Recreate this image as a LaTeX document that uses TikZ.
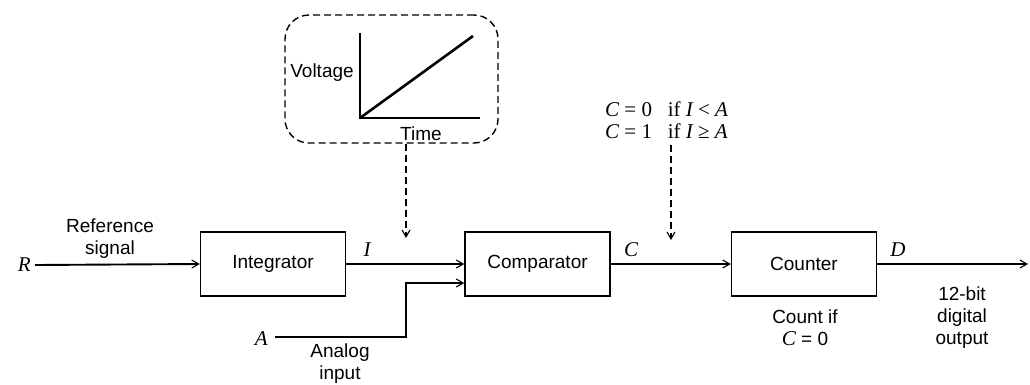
\documentclass[tikz,border=0pt]{standalone}
\usepackage{fontspec}
\setmainfont{Liberation Sans}
\newfontfamily\srf{Liberation Serif}
\newcommand{\vmi}[1]{{\srf\itshape #1}}
\newcommand{\bigv}[1]{{\fontsize{21}{24}\selectfont\srf\itshape #1}}
\usetikzlibrary{arrows.meta}
\begin{document}
\begin{tikzpicture}[x=1pt,y=-1pt,
  font=\fontsize{19}{22}\selectfont,
  blk/.style={draw, line width=1.4pt, minimum width=145pt, minimum height=64pt, inner sep=0pt},
  tip/.style={-{Straight Barb[length=7pt,width=8pt,line width=1.1pt]}},
  sig/.style={line width=1.9pt, tip},
  dsh/.style={line width=1.4pt, dash pattern=on 7pt off 4pt, tip},
  lbl/.style={inner sep=0pt, align=center}]
\useasboundingbox (0,0) rectangle (1030,384);

% blocks
\node[blk] (int) at (273,264) {Integrator};
\node[blk] (cmp) at (537.5,264) {Comparator};
\node[blk] (cnt) at (804,264) {Counter};

% inputs
\node[lbl, anchor=east] (R) at (31,265) {\bigv{R}};
\node[lbl] (refsig) at (110,239) {Reference\\signal};
\draw[sig] ([xshift=4pt]R.east) -- (int.west);

\node[lbl] (Ilab) at (367,250) {\bigv{I}};
\draw[sig] (int.east) -- (cmp.west);

\node[lbl, anchor=east] (A) at (268,339) {\bigv{A}};
\node[lbl] (analog) at (340,364) {Analog\\input};
\coordinate (ab) at (406,337);
\coordinate (at) at (406,283);
\draw[sig] ([xshift=7pt]A.east |- ab) -- (ab) -- (at) -- ([yshift=-19pt]cmp.west);

% graph box
\node[draw, line width=1.4pt, dash pattern=on 7pt off 4pt, rounded corners=24pt,
      minimum width=213pt, minimum height=128pt] (graph) at (391.5,79) {};
\coordinate (o) at (360,118);
\draw[line width=1.6pt] (360,33) -- (o) -- (480,118);
\draw[line width=2.6pt] (o) -- (473,36);
\node[lbl] (volt) at (322,73) {Voltage};
\node[lbl] (time) at (421,134) {Time};
\coordinate (itip) at (406,238);
\draw[dsh] (graph.south -| itip) -- (itip);

% comparator output
\node[lbl] (Clab) at (631,250) {\bigv{C}};
\draw[sig] (cmp.east) -- (cnt.west);
\node[lbl, anchor=north west, align=left, font=\fontsize{21}{22}\srf] (cond) at (605,102)
  {\vmi{C} = 0\ \ \ if \vmi{I} < \vmi{A}\\\vmi{C} = 1\ \ \ if \vmi{I} ≥ \vmi{A}};
\coordinate (ctip) at (671,240);
\draw[dsh] ([yshift=-6pt]cond.south -| ctip) -- (ctip);

% counter
\node[lbl] (cnote) at (805,328) {Count if\\\bigv{C} = 0};
\node[lbl] (Dlab) at (898,250) {\bigv{D}};
\coordinate (out) at (1028,264);
\draw[sig] (cnt.east) -- (out);
\node[lbl] (outlab) at (962,318) {12-bit\\digital\\output};
\end{tikzpicture}
\end{document}
